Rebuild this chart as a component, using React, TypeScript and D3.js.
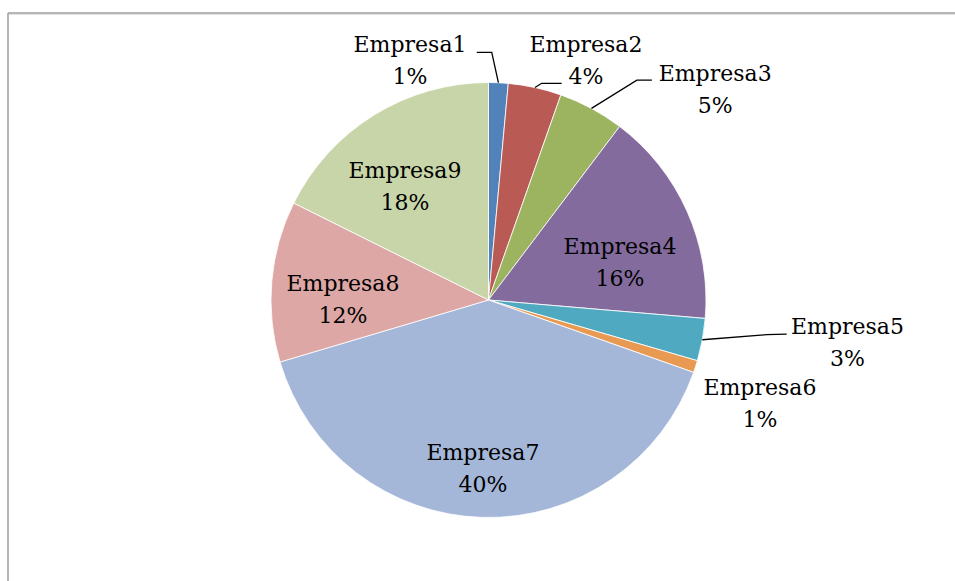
import React from "react";
import * as d3 from "d3";

// ---- data ----
const categories = ["Empresa1", "Empresa2", "Empresa3", "Empresa4", "Empresa5", "Empresa6", "Empresa7", "Empresa8", "Empresa9"];
const values = [1.45, 3.95, 4.9, 16.05, 3.15, 0.9, 40.0, 11.95, 17.65];
const colors = ["#5183BA", "#BA5A54", "#9CB460", "#846B9E", "#4FA9C0", "#E99A52", "#A5B7D8", "#DCA7A4", "#C7D5A9"];

// ---- layout (label anchor in polar: angle in degrees clockwise from top, distance in radii) ----
const labelAngle = [341.9, 22.1, 47.0, 73.7, 96.7, 110.8, 181.9, 270.4, 323.8];
const labelDist = [1.161, 1.191, 1.425, 0.63, 1.662, 1.335, 0.771, 0.669, 0.65];
// leader lines: elbow and end offsets relative to label anchor (null = none)
const leaders: ([number, number, number, number] | null)[] = [
  [81.7, -7.7, 66.7, -7.7],
  [-44.3, 23.3, -24.3, 23.3],
  [-78.3, -8.5, -63.3, -8.5],
  null,
  [-80.8, -7.5, -60.8, -8],
  null,
  null,
  null,
  null,
];

const W = 955;
const H = 581;
const cx = 488.5;
const cy = 300;
const R = 217.5;

export default function App() {
  const total = d3.sum(values);
  const pie = d3.pie<number>().sort(null).value((d) => d);
  const arcs = pie(values);
  const arc = d3.arc<d3.PieArcDatum<number>>().innerRadius(0).outerRadius(R);
  const pct = (v: number) => `${Math.round((v / total) * 100)}%`;
  const polar = (deg: number, dist: number): [number, number] => {
    const a = (deg * Math.PI) / 180;
    return [cx + dist * Math.sin(a), cy - dist * Math.cos(a)];
  };

  return (
    <svg width={W} height={H} style={{ position: "absolute", left: 0, top: 0, display: "block", background: "#fff" }}>
      <line x1={8} y1={13} x2={W} y2={13} stroke="#9e9e9e" strokeWidth={1.5} />
      <line x1={8} y1={13} x2={8} y2={H} stroke="#9e9e9e" strokeWidth={1.5} />
      <line x1={9} y1={14.5} x2={W} y2={14.5} stroke="#e2e2e2" strokeWidth={1} />
      <g transform={`translate(${cx},${cy})`}>
        {arcs.map((a, i) => (
          <path key={i} d={arc(a) || ""} fill={colors[i]} stroke="#fff" strokeWidth={0.8} />
        ))}
      </g>
      {arcs.map((a, i) => {
        const ld = leaders[i];
        if (!ld) return null;
        const [ax, ay] = polar(labelAngle[i], labelDist[i] * R);
        const mid = (a.startAngle + a.endAngle) / 2;
        const sx = cx + R * Math.sin(mid);
        const sy = cy - R * Math.cos(mid);
        const pts: [number, number][] = [
          [sx, sy],
          [ax + ld[0], ay + ld[1]],
          [ax + ld[2], ay + ld[3]],
        ];
        return <path key={"l" + i} d={d3.line()(pts) || ""} fill="none" stroke="#000" strokeWidth={1.3} />;
      })}
      {arcs.map((a, i) => {
        const [ax, ay] = polar(labelAngle[i], labelDist[i] * R);
        return (
          <text
            key={"t" + i}
            textAnchor="middle"
            fontFamily="'DejaVu Serif', serif"
            fontSize={22}
            fill="#000"
          >
            <tspan x={ax} y={ay - 8}>{categories[i]}</tspan>
            <tspan x={ax} y={ay + 24}>{pct(a.data)}</tspan>
          </text>
        );
      })}
    </svg>
  );
}
